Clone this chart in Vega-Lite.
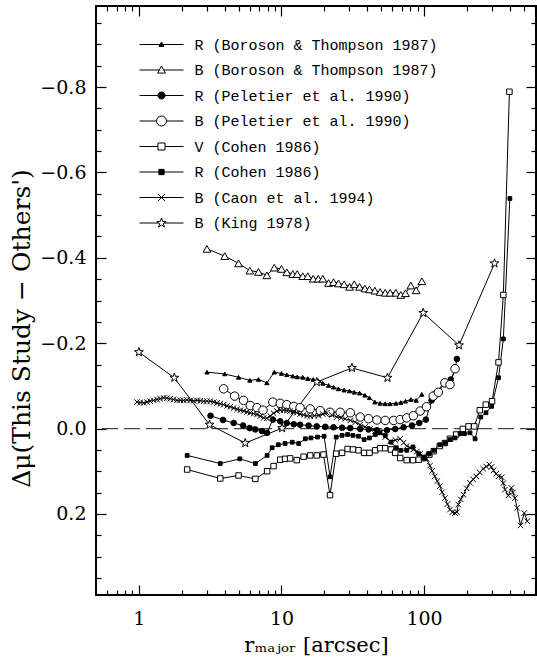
{
  "$schema": "https://vega.github.io/schema/vega-lite/v6.json",
  "width": 440,
  "height": 589,
  "autosize": {"type": "none"},
  "padding": {"left": 96, "top": 6, "right": 1, "bottom": 65},
  "background": "white",
  "config": {
    "view": {"stroke": "black", "strokeWidth": 2},
    "axis": {"domain": false, "grid": false, "tickColor": "black", "tickWidth": 1.2, "labelFont": "DejaVu Serif", "labelFontSize": 19, "labelColor": "black", "titleFont": "DejaVu Serif", "titleFontSize": 21, "titleFontWeight": "normal", "titleColor": "black", "labelOverlap": false, "labelFlush": false},
    "legend": {"orient": "none", "legendX": 43.5, "legendY": 30.5, "title": null, "padding": 0, "labelFont": "Liberation Mono", "labelFontSize": 15, "labelColor": "black", "labelLimit": 0, "labelOffset": 25, "symbolOffset": 14, "rowPadding": 9.5, "symbolSize": 225, "symbolStrokeWidth": 1, "symbolStrokeColor": "black", "symbolOpacity": 1}
  },
  "data": {"values": [
    {"s":"R (Boroson & Thompson 1987)","x":3.0,"y":-0.132},{"s":"R (Boroson & Thompson 1987)","x":4.0,"y":-0.128},{"s":"R (Boroson & Thompson 1987)","x":5.0,"y":-0.120},{"s":"R (Boroson & Thompson 1987)","x":6.0,"y":-0.113},{"s":"R (Boroson & Thompson 1987)","x":6.9,"y":-0.115},{"s":"R (Boroson & Thompson 1987)","x":7.9,"y":-0.107},{"s":"R (Boroson & Thompson 1987)","x":8.9,"y":-0.132},{"s":"R (Boroson & Thompson 1987)","x":10.0,"y":-0.129},{"s":"R (Boroson & Thompson 1987)","x":10.9,"y":-0.126},{"s":"R (Boroson & Thompson 1987)","x":12.0,"y":-0.123},{"s":"R (Boroson & Thompson 1987)","x":12.9,"y":-0.121},{"s":"R (Boroson & Thompson 1987)","x":14.1,"y":-0.120},{"s":"R (Boroson & Thompson 1987)","x":15.3,"y":-0.117},{"s":"R (Boroson & Thompson 1987)","x":16.7,"y":-0.115},{"s":"R (Boroson & Thompson 1987)","x":18.1,"y":-0.112},{"s":"R (Boroson & Thompson 1987)","x":19.5,"y":-0.106},{"s":"R (Boroson & Thompson 1987)","x":21.4,"y":-0.101},{"s":"R (Boroson & Thompson 1987)","x":23.2,"y":-0.097},{"s":"R (Boroson & Thompson 1987)","x":25.1,"y":-0.093},{"s":"R (Boroson & Thompson 1987)","x":27.5,"y":-0.090},{"s":"R (Boroson & Thompson 1987)","x":30.0,"y":-0.088},{"s":"R (Boroson & Thompson 1987)","x":32.4,"y":-0.085},{"s":"R (Boroson & Thompson 1987)","x":35.3,"y":-0.083},{"s":"R (Boroson & Thompson 1987)","x":38.5,"y":-0.078},{"s":"R (Boroson & Thompson 1987)","x":41.4,"y":-0.072},{"s":"R (Boroson & Thompson 1987)","x":45.2,"y":-0.062},{"s":"R (Boroson & Thompson 1987)","x":49.2,"y":-0.059},{"s":"R (Boroson & Thompson 1987)","x":53.4,"y":-0.058},{"s":"R (Boroson & Thompson 1987)","x":57.8,"y":-0.058},{"s":"R (Boroson & Thompson 1987)","x":63.4,"y":-0.059},{"s":"R (Boroson & Thompson 1987)","x":68.7,"y":-0.061},{"s":"R (Boroson & Thompson 1987)","x":74.1,"y":-0.064},{"s":"R (Boroson & Thompson 1987)","x":80.8,"y":-0.068},{"s":"R (Boroson & Thompson 1987)","x":88.0,"y":-0.066},{"s":"R (Boroson & Thompson 1987)","x":96.5,"y":-0.080},
    {"s":"B (Boroson & Thompson 1987)","x":3.0,"y":-0.421},{"s":"B (Boroson & Thompson 1987)","x":4.0,"y":-0.404},{"s":"B (Boroson & Thompson 1987)","x":5.0,"y":-0.387},{"s":"B (Boroson & Thompson 1987)","x":6.0,"y":-0.370},{"s":"B (Boroson & Thompson 1987)","x":6.9,"y":-0.367},{"s":"B (Boroson & Thompson 1987)","x":7.9,"y":-0.359},{"s":"B (Boroson & Thompson 1987)","x":8.9,"y":-0.377},{"s":"B (Boroson & Thompson 1987)","x":10.0,"y":-0.374},{"s":"B (Boroson & Thompson 1987)","x":10.9,"y":-0.366},{"s":"B (Boroson & Thompson 1987)","x":12.0,"y":-0.362},{"s":"B (Boroson & Thompson 1987)","x":12.9,"y":-0.362},{"s":"B (Boroson & Thompson 1987)","x":14.1,"y":-0.357},{"s":"B (Boroson & Thompson 1987)","x":15.3,"y":-0.357},{"s":"B (Boroson & Thompson 1987)","x":16.7,"y":-0.351},{"s":"B (Boroson & Thompson 1987)","x":18.1,"y":-0.351},{"s":"B (Boroson & Thompson 1987)","x":19.5,"y":-0.351},{"s":"B (Boroson & Thompson 1987)","x":21.4,"y":-0.341},{"s":"B (Boroson & Thompson 1987)","x":23.2,"y":-0.343},{"s":"B (Boroson & Thompson 1987)","x":25.1,"y":-0.340},{"s":"B (Boroson & Thompson 1987)","x":27.5,"y":-0.338},{"s":"B (Boroson & Thompson 1987)","x":30.0,"y":-0.332},{"s":"B (Boroson & Thompson 1987)","x":32.4,"y":-0.338},{"s":"B (Boroson & Thompson 1987)","x":35.3,"y":-0.332},{"s":"B (Boroson & Thompson 1987)","x":38.5,"y":-0.328},{"s":"B (Boroson & Thompson 1987)","x":41.4,"y":-0.326},{"s":"B (Boroson & Thompson 1987)","x":45.2,"y":-0.323},{"s":"B (Boroson & Thompson 1987)","x":49.2,"y":-0.320},{"s":"B (Boroson & Thompson 1987)","x":53.4,"y":-0.318},{"s":"B (Boroson & Thompson 1987)","x":57.8,"y":-0.318},{"s":"B (Boroson & Thompson 1987)","x":63.4,"y":-0.318},{"s":"B (Boroson & Thompson 1987)","x":68.7,"y":-0.313},{"s":"B (Boroson & Thompson 1987)","x":74.1,"y":-0.317},{"s":"B (Boroson & Thompson 1987)","x":80.8,"y":-0.335},{"s":"B (Boroson & Thompson 1987)","x":88.0,"y":-0.324},{"s":"B (Boroson & Thompson 1987)","x":96.5,"y":-0.345},
    {"s":"R (Peletier et al. 1990)","x":3.18,"y":-0.030},{"s":"R (Peletier et al. 1990)","x":3.89,"y":-0.020},{"s":"R (Peletier et al. 1990)","x":4.62,"y":-0.013},{"s":"R (Peletier et al. 1990)","x":5.38,"y":-0.007},{"s":"R (Peletier et al. 1990)","x":5.98,"y":-0.001},{"s":"R (Peletier et al. 1990)","x":6.55,"y":0.002},{"s":"R (Peletier et al. 1990)","x":7.3,"y":0.006},{"s":"R (Peletier et al. 1990)","x":7.92,"y":0.010},{"s":"R (Peletier et al. 1990)","x":8.7,"y":-0.021},{"s":"R (Peletier et al. 1990)","x":9.8,"y":-0.017},{"s":"R (Peletier et al. 1990)","x":10.9,"y":-0.013},{"s":"R (Peletier et al. 1990)","x":12.2,"y":-0.010},{"s":"R (Peletier et al. 1990)","x":13.5,"y":-0.009},{"s":"R (Peletier et al. 1990)","x":15.5,"y":-0.007},{"s":"R (Peletier et al. 1990)","x":17.7,"y":-0.005},{"s":"R (Peletier et al. 1990)","x":20.3,"y":-0.004},{"s":"R (Peletier et al. 1990)","x":23.2,"y":-0.003},{"s":"R (Peletier et al. 1990)","x":26.6,"y":-0.002},{"s":"R (Peletier et al. 1990)","x":30.4,"y":-0.001},{"s":"R (Peletier et al. 1990)","x":35.7,"y":0.001},{"s":"R (Peletier et al. 1990)","x":40.8,"y":0.002},{"s":"R (Peletier et al. 1990)","x":46.7,"y":0.004},{"s":"R (Peletier et al. 1990)","x":54.9,"y":0.004},{"s":"R (Peletier et al. 1990)","x":62.8,"y":0.001},{"s":"R (Peletier et al. 1990)","x":71.9,"y":-0.003},{"s":"R (Peletier et al. 1990)","x":82.3,"y":-0.007},{"s":"R (Peletier et al. 1990)","x":92.6,"y":-0.013},{"s":"R (Peletier et al. 1990)","x":103,"y":-0.021},{"s":"R (Peletier et al. 1990)","x":113,"y":-0.066},{"s":"R (Peletier et al. 1990)","x":122,"y":-0.084},{"s":"R (Peletier et al. 1990)","x":138,"y":-0.107},{"s":"R (Peletier et al. 1990)","x":154,"y":-0.115},{"s":"R (Peletier et al. 1990)","x":165,"y":-0.138},{"s":"R (Peletier et al. 1990)","x":170,"y":-0.163},
    {"s":"B (Peletier et al. 1990)","x":3.93,"y":-0.093},{"s":"B (Peletier et al. 1990)","x":4.69,"y":-0.076},{"s":"B (Peletier et al. 1990)","x":5.42,"y":-0.066},{"s":"B (Peletier et al. 1990)","x":6.04,"y":-0.054},{"s":"B (Peletier et al. 1990)","x":6.74,"y":-0.049},{"s":"B (Peletier et al. 1990)","x":7.42,"y":-0.043},{"s":"B (Peletier et al. 1990)","x":8.7,"y":-0.062},{"s":"B (Peletier et al. 1990)","x":9.8,"y":-0.059},{"s":"B (Peletier et al. 1990)","x":10.9,"y":-0.056},{"s":"B (Peletier et al. 1990)","x":12.2,"y":-0.052},{"s":"B (Peletier et al. 1990)","x":13.5,"y":-0.049},{"s":"B (Peletier et al. 1990)","x":15.9,"y":-0.046},{"s":"B (Peletier et al. 1990)","x":18.7,"y":-0.042},{"s":"B (Peletier et al. 1990)","x":21.9,"y":-0.038},{"s":"B (Peletier et al. 1990)","x":25.8,"y":-0.038},{"s":"B (Peletier et al. 1990)","x":30.4,"y":-0.037},{"s":"B (Peletier et al. 1990)","x":35.7,"y":-0.027},{"s":"B (Peletier et al. 1990)","x":40.8,"y":-0.023},{"s":"B (Peletier et al. 1990)","x":46.7,"y":-0.020},{"s":"B (Peletier et al. 1990)","x":53.4,"y":-0.019},{"s":"B (Peletier et al. 1990)","x":61.2,"y":-0.019},{"s":"B (Peletier et al. 1990)","x":68.0,"y":-0.021},{"s":"B (Peletier et al. 1990)","x":75.6,"y":-0.025},{"s":"B (Peletier et al. 1990)","x":84.2,"y":-0.030},{"s":"B (Peletier et al. 1990)","x":93.9,"y":-0.041},{"s":"B (Peletier et al. 1990)","x":104,"y":-0.051},{"s":"B (Peletier et al. 1990)","x":116,"y":-0.076},{"s":"B (Peletier et al. 1990)","x":126,"y":-0.085},{"s":"B (Peletier et al. 1990)","x":140,"y":-0.107},{"s":"B (Peletier et al. 1990)","x":152,"y":-0.103},{"s":"B (Peletier et al. 1990)","x":165,"y":-0.140},
    {"s":"V (Cohen 1986)","x":2.18,"y":0.096},{"s":"V (Cohen 1986)","x":3.72,"y":0.117},{"s":"V (Cohen 1986)","x":5.0,"y":0.110},{"s":"V (Cohen 1986)","x":6.56,"y":0.118},{"s":"V (Cohen 1986)","x":7.93,"y":0.100},{"s":"V (Cohen 1986)","x":8.8,"y":0.088},{"s":"V (Cohen 1986)","x":9.8,"y":0.073},{"s":"V (Cohen 1986)","x":10.6,"y":0.071},{"s":"V (Cohen 1986)","x":11.5,"y":0.070},{"s":"V (Cohen 1986)","x":12.8,"y":0.074},{"s":"V (Cohen 1986)","x":14.3,"y":0.066},{"s":"V (Cohen 1986)","x":15.9,"y":0.063},{"s":"V (Cohen 1986)","x":17.7,"y":0.063},{"s":"V (Cohen 1986)","x":19.7,"y":0.061},{"s":"V (Cohen 1986)","x":21.9,"y":0.156},{"s":"V (Cohen 1986)","x":24.2,"y":0.059},{"s":"V (Cohen 1986)","x":26.6,"y":0.057},{"s":"V (Cohen 1986)","x":29.1,"y":0.048},{"s":"V (Cohen 1986)","x":31.7,"y":0.049},{"s":"V (Cohen 1986)","x":34.7,"y":0.051},{"s":"V (Cohen 1986)","x":38.0,"y":0.057},{"s":"V (Cohen 1986)","x":41.4,"y":0.057},{"s":"V (Cohen 1986)","x":45.5,"y":0.051},{"s":"V (Cohen 1986)","x":49.2,"y":0.046},{"s":"V (Cohen 1986)","x":53.4,"y":0.046},{"s":"V (Cohen 1986)","x":58.6,"y":0.049},{"s":"V (Cohen 1986)","x":62.8,"y":0.057},{"s":"V (Cohen 1986)","x":68.0,"y":0.069},{"s":"V (Cohen 1986)","x":75.6,"y":0.074},{"s":"V (Cohen 1986)","x":83.6,"y":0.074},{"s":"V (Cohen 1986)","x":91.7,"y":0.073},{"s":"V (Cohen 1986)","x":100,"y":0.069},{"s":"V (Cohen 1986)","x":109,"y":0.061},{"s":"V (Cohen 1986)","x":117,"y":0.053},{"s":"V (Cohen 1986)","x":129,"y":0.041},{"s":"V (Cohen 1986)","x":140,"y":0.034},{"s":"V (Cohen 1986)","x":152,"y":0.024},{"s":"V (Cohen 1986)","x":168,"y":0.014},{"s":"V (Cohen 1986)","x":187,"y":0.001},{"s":"V (Cohen 1986)","x":205,"y":-0.005},{"s":"V (Cohen 1986)","x":225,"y":-0.005},{"s":"V (Cohen 1986)","x":246,"y":-0.043},{"s":"V (Cohen 1986)","x":271,"y":-0.056},{"s":"V (Cohen 1986)","x":300,"y":-0.064},{"s":"V (Cohen 1986)","x":333,"y":-0.155},{"s":"V (Cohen 1986)","x":360,"y":-0.313},{"s":"V (Cohen 1986)","x":397,"y":-0.789},
    {"s":"R (Cohen 1986)","x":2.18,"y":0.063},{"s":"R (Cohen 1986)","x":3.72,"y":0.082},{"s":"R (Cohen 1986)","x":5.1,"y":0.071},{"s":"R (Cohen 1986)","x":6.56,"y":0.082},{"s":"R (Cohen 1986)","x":7.93,"y":0.063},{"s":"R (Cohen 1986)","x":8.6,"y":0.045},{"s":"R (Cohen 1986)","x":9.5,"y":0.038},{"s":"R (Cohen 1986)","x":10.6,"y":0.035},{"s":"R (Cohen 1986)","x":11.9,"y":0.032},{"s":"R (Cohen 1986)","x":13.2,"y":0.035},{"s":"R (Cohen 1986)","x":14.7,"y":0.024},{"s":"R (Cohen 1986)","x":16.1,"y":0.022},{"s":"R (Cohen 1986)","x":17.9,"y":0.020},{"s":"R (Cohen 1986)","x":19.9,"y":0.018},{"s":"R (Cohen 1986)","x":21.9,"y":0.113},{"s":"R (Cohen 1986)","x":24.2,"y":0.020},{"s":"R (Cohen 1986)","x":26.6,"y":0.016},{"s":"R (Cohen 1986)","x":29.1,"y":0.014},{"s":"R (Cohen 1986)","x":31.7,"y":0.016},{"s":"R (Cohen 1986)","x":34.7,"y":0.018},{"s":"R (Cohen 1986)","x":38.0,"y":0.026},{"s":"R (Cohen 1986)","x":41.4,"y":0.022},{"s":"R (Cohen 1986)","x":45.5,"y":0.014},{"s":"R (Cohen 1986)","x":49.2,"y":0.010},{"s":"R (Cohen 1986)","x":53.4,"y":0.016},{"s":"R (Cohen 1986)","x":58.6,"y":0.032},{"s":"R (Cohen 1986)","x":63.9,"y":0.045},{"s":"R (Cohen 1986)","x":68.7,"y":0.051},{"s":"R (Cohen 1986)","x":75.6,"y":0.051},{"s":"R (Cohen 1986)","x":83.6,"y":0.043},{"s":"R (Cohen 1986)","x":91.7,"y":0.059},{"s":"R (Cohen 1986)","x":100,"y":0.069},{"s":"R (Cohen 1986)","x":109,"y":0.059},{"s":"R (Cohen 1986)","x":117,"y":0.051},{"s":"R (Cohen 1986)","x":129,"y":0.038},{"s":"R (Cohen 1986)","x":140,"y":0.034},{"s":"R (Cohen 1986)","x":152,"y":0.026},{"s":"R (Cohen 1986)","x":165,"y":0.022},{"s":"R (Cohen 1986)","x":179,"y":0.012},{"s":"R (Cohen 1986)","x":192,"y":0.012},{"s":"R (Cohen 1986)","x":210,"y":0.010},{"s":"R (Cohen 1986)","x":228,"y":0.024},{"s":"R (Cohen 1986)","x":250,"y":-0.027},{"s":"R (Cohen 1986)","x":272,"y":-0.037},{"s":"R (Cohen 1986)","x":298,"y":-0.052},{"s":"R (Cohen 1986)","x":333,"y":-0.119},{"s":"R (Cohen 1986)","x":360,"y":-0.210},{"s":"R (Cohen 1986)","x":400,"y":-0.539},
    {"s":"B (Caon et al. 1994)","x":0.97,"y":-0.062},{"s":"B (Caon et al. 1994)","x":1.02,"y":-0.061},{"s":"B (Caon et al. 1994)","x":1.08,"y":-0.060},{"s":"B (Caon et al. 1994)","x":1.14,"y":-0.062},{"s":"B (Caon et al. 1994)","x":1.20,"y":-0.064},{"s":"B (Caon et al. 1994)","x":1.27,"y":-0.066},{"s":"B (Caon et al. 1994)","x":1.34,"y":-0.068},{"s":"B (Caon et al. 1994)","x":1.41,"y":-0.070},{"s":"B (Caon et al. 1994)","x":1.49,"y":-0.072},{"s":"B (Caon et al. 1994)","x":1.57,"y":-0.071},{"s":"B (Caon et al. 1994)","x":1.66,"y":-0.070},{"s":"B (Caon et al. 1994)","x":1.75,"y":-0.068},{"s":"B (Caon et al. 1994)","x":1.85,"y":-0.066},{"s":"B (Caon et al. 1994)","x":1.95,"y":-0.066},{"s":"B (Caon et al. 1994)","x":2.06,"y":-0.066},{"s":"B (Caon et al. 1994)","x":2.17,"y":-0.067},{"s":"B (Caon et al. 1994)","x":2.29,"y":-0.066},{"s":"B (Caon et al. 1994)","x":2.42,"y":-0.065},{"s":"B (Caon et al. 1994)","x":2.56,"y":-0.066},{"s":"B (Caon et al. 1994)","x":2.70,"y":-0.065},{"s":"B (Caon et al. 1994)","x":2.85,"y":-0.064},{"s":"B (Caon et al. 1994)","x":3.0,"y":-0.064},{"s":"B (Caon et al. 1994)","x":3.17,"y":-0.064},{"s":"B (Caon et al. 1994)","x":3.35,"y":-0.062},{"s":"B (Caon et al. 1994)","x":3.53,"y":-0.060},{"s":"B (Caon et al. 1994)","x":3.73,"y":-0.058},{"s":"B (Caon et al. 1994)","x":3.93,"y":-0.056},{"s":"B (Caon et al. 1994)","x":4.15,"y":-0.053},{"s":"B (Caon et al. 1994)","x":4.38,"y":-0.051},{"s":"B (Caon et al. 1994)","x":4.62,"y":-0.048},{"s":"B (Caon et al. 1994)","x":4.88,"y":-0.045},{"s":"B (Caon et al. 1994)","x":5.15,"y":-0.043},{"s":"B (Caon et al. 1994)","x":5.43,"y":-0.041},{"s":"B (Caon et al. 1994)","x":5.73,"y":-0.039},{"s":"B (Caon et al. 1994)","x":6.04,"y":-0.037},{"s":"B (Caon et al. 1994)","x":6.38,"y":-0.035},{"s":"B (Caon et al. 1994)","x":6.73,"y":-0.033},{"s":"B (Caon et al. 1994)","x":7.1,"y":-0.029},{"s":"B (Caon et al. 1994)","x":7.5,"y":-0.025},{"s":"B (Caon et al. 1994)","x":7.9,"y":-0.024},{"s":"B (Caon et al. 1994)","x":8.35,"y":-0.029},{"s":"B (Caon et al. 1994)","x":8.8,"y":-0.036},{"s":"B (Caon et al. 1994)","x":9.3,"y":-0.041},{"s":"B (Caon et al. 1994)","x":9.8,"y":-0.043},{"s":"B (Caon et al. 1994)","x":10.35,"y":-0.043},{"s":"B (Caon et al. 1994)","x":10.9,"y":-0.042},{"s":"B (Caon et al. 1994)","x":11.5,"y":-0.041},{"s":"B (Caon et al. 1994)","x":12.1,"y":-0.039},{"s":"B (Caon et al. 1994)","x":12.8,"y":-0.037},{"s":"B (Caon et al. 1994)","x":13.5,"y":-0.034},{"s":"B (Caon et al. 1994)","x":14.3,"y":-0.032},{"s":"B (Caon et al. 1994)","x":15.1,"y":-0.030},{"s":"B (Caon et al. 1994)","x":15.9,"y":-0.029},{"s":"B (Caon et al. 1994)","x":17.0,"y":-0.030},{"s":"B (Caon et al. 1994)","x":18.2,"y":-0.030},{"s":"B (Caon et al. 1994)","x":19.5,"y":-0.034},{"s":"B (Caon et al. 1994)","x":20.8,"y":-0.037},{"s":"B (Caon et al. 1994)","x":22.5,"y":-0.032},{"s":"B (Caon et al. 1994)","x":24.4,"y":-0.027},{"s":"B (Caon et al. 1994)","x":26.2,"y":-0.025},{"s":"B (Caon et al. 1994)","x":28.0,"y":-0.023},{"s":"B (Caon et al. 1994)","x":30.4,"y":-0.019},{"s":"B (Caon et al. 1994)","x":32.9,"y":-0.015},{"s":"B (Caon et al. 1994)","x":35.6,"y":-0.009},{"s":"B (Caon et al. 1994)","x":38.6,"y":-0.004},{"s":"B (Caon et al. 1994)","x":41.8,"y":0.001},{"s":"B (Caon et al. 1994)","x":45.3,"y":0.006},{"s":"B (Caon et al. 1994)","x":49.2,"y":0.009},{"s":"B (Caon et al. 1994)","x":53.5,"y":0.020},{"s":"B (Caon et al. 1994)","x":58,"y":0.030},{"s":"B (Caon et al. 1994)","x":63,"y":0.027},{"s":"B (Caon et al. 1994)","x":68,"y":0.024},{"s":"B (Caon et al. 1994)","x":72,"y":0.033},{"s":"B (Caon et al. 1994)","x":75.6,"y":0.041},{"s":"B (Caon et al. 1994)","x":80,"y":0.045},{"s":"B (Caon et al. 1994)","x":84,"y":0.049},{"s":"B (Caon et al. 1994)","x":89,"y":0.054},{"s":"B (Caon et al. 1994)","x":93.8,"y":0.059},{"s":"B (Caon et al. 1994)","x":99,"y":0.065},{"s":"B (Caon et al. 1994)","x":104,"y":0.071},{"s":"B (Caon et al. 1994)","x":110,"y":0.087},{"s":"B (Caon et al. 1994)","x":114,"y":0.099},{"s":"B (Caon et al. 1994)","x":119,"y":0.112},{"s":"B (Caon et al. 1994)","x":124,"y":0.123},{"s":"B (Caon et al. 1994)","x":129,"y":0.135},{"s":"B (Caon et al. 1994)","x":134,"y":0.149},{"s":"B (Caon et al. 1994)","x":140,"y":0.163},{"s":"B (Caon et al. 1994)","x":146,"y":0.177},{"s":"B (Caon et al. 1994)","x":152,"y":0.190},{"s":"B (Caon et al. 1994)","x":158,"y":0.196},{"s":"B (Caon et al. 1994)","x":165,"y":0.198},{"s":"B (Caon et al. 1994)","x":170,"y":0.196},{"s":"B (Caon et al. 1994)","x":174,"y":0.178},{"s":"B (Caon et al. 1994)","x":181,"y":0.166},{"s":"B (Caon et al. 1994)","x":189,"y":0.155},{"s":"B (Caon et al. 1994)","x":199,"y":0.140},{"s":"B (Caon et al. 1994)","x":210,"y":0.127},{"s":"B (Caon et al. 1994)","x":221,"y":0.119},{"s":"B (Caon et al. 1994)","x":233,"y":0.112},{"s":"B (Caon et al. 1994)","x":246,"y":0.103},{"s":"B (Caon et al. 1994)","x":260,"y":0.094},{"s":"B (Caon et al. 1994)","x":273,"y":0.089},{"s":"B (Caon et al. 1994)","x":287,"y":0.084},{"s":"B (Caon et al. 1994)","x":297,"y":0.090},{"s":"B (Caon et al. 1994)","x":307,"y":0.098},{"s":"B (Caon et al. 1994)","x":320,"y":0.106},{"s":"B (Caon et al. 1994)","x":333,"y":0.112},{"s":"B (Caon et al. 1994)","x":350,"y":0.114},{"s":"B (Caon et al. 1994)","x":360,"y":0.128},{"s":"B (Caon et al. 1994)","x":370,"y":0.143},{"s":"B (Caon et al. 1994)","x":390,"y":0.157},{"s":"B (Caon et al. 1994)","x":410,"y":0.139},{"s":"B (Caon et al. 1994)","x":420,"y":0.150},{"s":"B (Caon et al. 1994)","x":434,"y":0.163},{"s":"B (Caon et al. 1994)","x":450,"y":0.186},{"s":"B (Caon et al. 1994)","x":475,"y":0.227},{"s":"B (Caon et al. 1994)","x":505,"y":0.198},{"s":"B (Caon et al. 1994)","x":530,"y":0.217},
    {"s":"B (King 1978)","x":1.0,"y":-0.179},{"s":"B (King 1978)","x":1.77,"y":-0.119},{"s":"B (King 1978)","x":3.13,"y":-0.009},{"s":"B (King 1978)","x":5.57,"y":0.034},{"s":"B (King 1978)","x":10.1,"y":-0.001},{"s":"B (King 1978)","x":17.7,"y":-0.109},{"s":"B (King 1978)","x":31.2,"y":-0.142},{"s":"B (King 1978)","x":55.4,"y":-0.119},{"s":"B (King 1978)","x":98.7,"y":-0.271},{"s":"B (King 1978)","x":176,"y":-0.195},{"s":"B (King 1978)","x":312,"y":-0.387}
  ]},
  "resolve": {"axis": {"x": "independent", "y": "independent"}, "scale": {"shape": "independent", "fill": "independent", "size": "independent", "stroke": "independent"}},
  "layer": [
    {
      "data": {"values": [{"z": 0}]},
      "mark": {"type": "rule", "stroke": "#444444", "strokeWidth": 1.2, "strokeDash": [16, 6]},
      "encoding": {
        "y": {"field": "z", "type": "quantitative", "axis": null}
      }
    },
    {
      "mark": {"type": "line", "stroke": "black", "strokeWidth": 1, "clip": true},
      "encoding": {
        "x": {"field": "x", "type": "quantitative", "scale": {"type": "log", "domain": [0.5, 610], "nice": false},
          "axis": {"orient": "bottom", "values": [0.6,0.7,0.8,0.9,1,2,3,4,5,6,7,8,9,10,20,30,40,50,60,70,80,90,100,200,300,400,500,600],
            "tickSize": {"expr": "datum.value == 1 || datum.value == 10 || datum.value == 100 ? -10 : -5"},
            "labelExpr": "datum.value == 1 || datum.value == 10 || datum.value == 100 ? format(datum.value, 'd') : ''",
            "labelPadding": 24, "title": "rₘₐⱼₒᵣ [arcsec]", "titlePadding": 1}},
        "y": {"field": "y", "type": "quantitative", "scale": {"domain": [-0.99, 0.39], "reverse": true, "nice": false, "zero": false},
          "axis": {"orient": "left", "values": [-0.95,-0.9,-0.85,-0.8,-0.75,-0.7,-0.65,-0.6,-0.55,-0.5,-0.45,-0.4,-0.35,-0.3,-0.25,-0.2,-0.15,-0.1,-0.05,0,0.05,0.1,0.15,0.2,0.25,0.3,0.35],
            "format": ".1f",
            "tickSize": {"expr": "abs(datum.value*5 - round(datum.value*5)) < 0.01 ? -10 : -5"},
            "labelExpr": "abs(datum.value*5 - round(datum.value*5)) < 0.01 ? datum.label : ''",
            "labelPadding": 20, "title": "Δμ(This Study − Others')", "titleFontSize": 25, "titlePadding": 5, "titleY": 322}},
        "detail": {"field": "s", "type": "nominal"}
      }
    },
    {
      "mark": {"type": "point", "filled": true, "stroke": "black", "strokeWidth": 1, "opacity": 1, "clip": true},
      "encoding": {
        "x": {"field": "x", "type": "quantitative",
          "axis": {"orient": "top", "values": [0.6,0.7,0.8,0.9,1,2,3,4,5,6,7,8,9,10,20,30,40,50,60,70,80,90,100,200,300,400,500,600],
            "tickSize": {"expr": "datum.value == 1 || datum.value == 10 || datum.value == 100 ? -10 : -5"},
            "labels": false, "title": null}},
        "y": {"field": "y", "type": "quantitative",
          "axis": {"orient": "right", "values": [-0.95,-0.9,-0.85,-0.8,-0.75,-0.7,-0.65,-0.6,-0.55,-0.5,-0.45,-0.4,-0.35,-0.3,-0.25,-0.2,-0.15,-0.1,-0.05,0,0.05,0.1,0.15,0.2,0.25,0.3,0.35],
            "tickSize": {"expr": "abs(datum.value*5 - round(datum.value*5)) < 0.01 ? -10 : -5"},
            "labels": false, "title": null}},
        "shape": {"field": "s", "type": "nominal", "legend": null,
          "scale": {"domain": ["R (Boroson & Thompson 1987)","B (Boroson & Thompson 1987)","R (Peletier et al. 1990)","B (Peletier et al. 1990)","V (Cohen 1986)","R (Cohen 1986)","B (Caon et al. 1994)","B (King 1978)"],
            "range": ["triangle-up","triangle-up","circle","circle","square","square","M-1,-1L1,1M-1,1L1,-1","M0,-1L0.235,-0.324L0.951,-0.309L0.38,0.124L0.588,0.809L0,0.4L-0.588,0.809L-0.38,0.124L-0.951,-0.309L-0.235,-0.324Z"]}},
        "fill": {"field": "s", "type": "nominal", "legend": null,
          "scale": {"type": "ordinal", "domain": ["B (King 1978)","B (Caon et al. 1994)","R (Cohen 1986)","V (Cohen 1986)","B (Peletier et al. 1990)","R (Peletier et al. 1990)","B (Boroson & Thompson 1987)","R (Boroson & Thompson 1987)"],
            "range": ["white","transparent","black","white","white","black","white","black"]}},
        "size": {"field": "s", "type": "nominal", "legend": null,
          "scale": {"type": "ordinal", "domain": ["B (King 1978)","B (Caon et al. 1994)","R (Cohen 1986)","V (Cohen 1986)","B (Peletier et al. 1990)","R (Peletier et al. 1990)","B (Boroson & Thompson 1987)","R (Boroson & Thompson 1987)"],
            "range": [85, 30, 14, 30, 72, 32, 60, 18]}}
      }
    },
    {
      "data": {"values": []},
      "mark": {"type": "point", "filled": true, "stroke": "black", "strokeWidth": 1, "opacity": 1},
      "encoding": {
        "shape": {"field": "s", "type": "nominal",
          "scale": {"domain": ["R (Boroson & Thompson 1987)","B (Boroson & Thompson 1987)","R (Peletier et al. 1990)","B (Peletier et al. 1990)","V (Cohen 1986)","R (Cohen 1986)","B (Caon et al. 1994)","B (King 1978)"],
            "range": ["M-2.933,0H2.933M-0.334,0.264L0.334,0.264L0,-0.323Z","M-2.933,0H-0.293M0.293,0H2.933M-0.528,0.411L0.528,0.411L0,-0.528Z","M-2.933,0H2.933M-0.469,0A0.469,0.469,0,1,1,0.469,0A0.469,0.469,0,1,1,-0.469,0Z","M-2.933,0H-0.666M0.666,0H2.933M-0.666,0A0.666,0.666,0,1,1,0.666,0A0.666,0.666,0,1,1,-0.666,0Z","M-2.933,0H-0.469M0.469,0H2.933M-0.469,-0.469H0.469V0.469H-0.469Z","M-2.933,0H2.933M-0.35,-0.35H0.35V0.35H-0.35Z","M-2.933,0H2.933M-0.469,-0.469L0.469,0.469M-0.469,0.469L0.469,-0.469","M-2.933,0H-0.361M0.361,0H2.933M0,-0.666L0.155,-0.217L0.634,-0.205L0.252,0.082L0.393,0.54L0,0.267L-0.393,0.54L-0.252,0.082L-0.634,-0.205L-0.155,-0.217Z"]},
          "legend": {}},
        "fill": {"field": "s", "type": "nominal",
          "scale": {"domain": ["R (Boroson & Thompson 1987)","B (Boroson & Thompson 1987)","R (Peletier et al. 1990)","B (Peletier et al. 1990)","V (Cohen 1986)","R (Cohen 1986)","B (Caon et al. 1994)","B (King 1978)"],
            "range": ["black","white","black","white","white","black","transparent","white"]},
          "legend": {}},
        "stroke": {"field": "s", "type": "nominal",
          "scale": {"domain": ["R (Boroson & Thompson 1987)","B (Boroson & Thompson 1987)","R (Peletier et al. 1990)","B (Peletier et al. 1990)","V (Cohen 1986)","R (Cohen 1986)","B (Caon et al. 1994)","B (King 1978)"],
            "range": ["black","black","black","black","black","black","black","black"]},
          "legend": {}}
      }
    }
  ]
}
